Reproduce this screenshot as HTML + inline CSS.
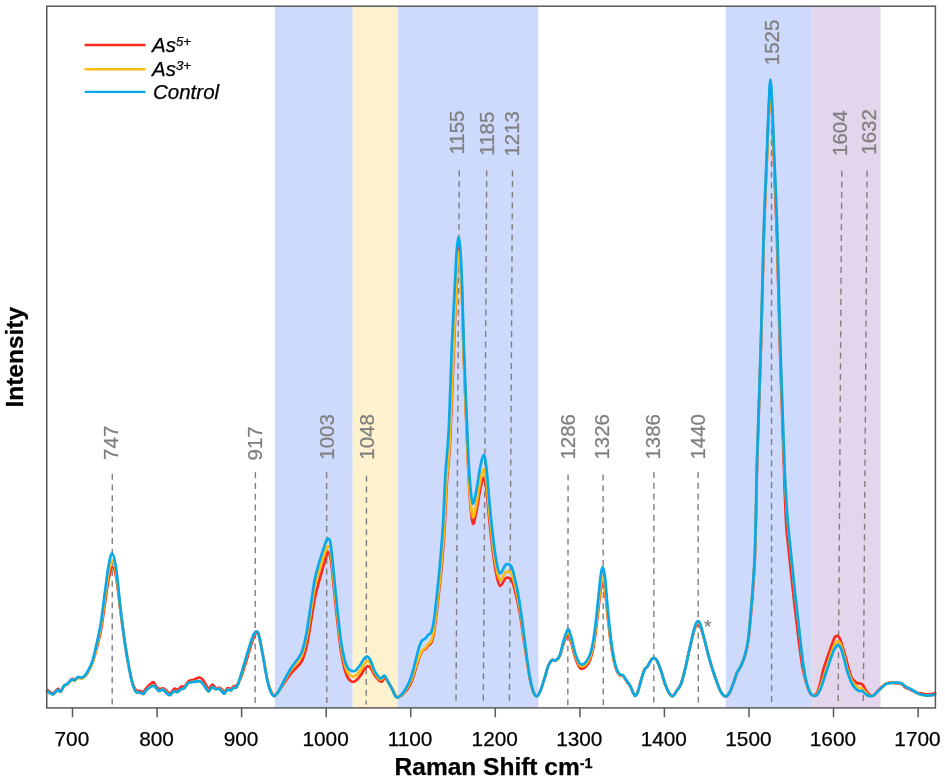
<!DOCTYPE html>
<html lang="en"><head><meta charset="utf-8"><title>Raman spectra</title>
<style>html,body{margin:0;padding:0;background:#fff}body{width:945px;height:782px;overflow:hidden}svg{display:block}</style>
</head><body>
<svg width="945" height="782" viewBox="0 0 945 782">
<rect width="945" height="782" fill="#fff"/>
<rect x="274.9" y="6.2" width="77.8" height="701.7" fill="#cddafc"/>
<rect x="352.7" y="6.2" width="45.1" height="701.7" fill="#fef1cd"/>
<rect x="397.8" y="6.2" width="140.6" height="701.7" fill="#cddafc"/>
<rect x="725.9" y="6.2" width="86.6" height="701.7" fill="#cddafc"/>
<rect x="812.5" y="6.2" width="68.0" height="701.7" fill="#e3d6ec"/>
<g stroke="#7f7f7f" stroke-width="1.4" stroke-dasharray="6 4.7" fill="none">
<line x1="112.3" y1="473.8" x2="112.2" y2="704.5"/>
<line x1="255.4" y1="472.3" x2="255.1" y2="704.5"/>
<line x1="326.6" y1="472.3" x2="326.8" y2="704.5"/>
<line x1="366.5" y1="475.7" x2="366.2" y2="704.5"/>
<line x1="459.3" y1="170.4" x2="456.0" y2="702.5"/>
<line x1="486.7" y1="170.4" x2="483.3" y2="702.5"/>
<line x1="512.5" y1="170.4" x2="509.4" y2="702.5"/>
<line x1="568.1" y1="474.5" x2="567.8" y2="705.5"/>
<line x1="603.1" y1="474.5" x2="603.3" y2="705.5"/>
<line x1="653.9" y1="472.0" x2="653.8" y2="702.5"/>
<line x1="698.1" y1="472.0" x2="698.3" y2="702.5"/>
<line x1="771.5" y1="86.0" x2="771.6" y2="704.8"/>
<line x1="841.8" y1="170.7" x2="838.2" y2="702.5"/>
<line x1="867.1" y1="170.7" x2="863.3" y2="702.5"/>
</g>
<g font-family="'Liberation Sans', Arial, Helvetica, sans-serif" font-size="20.5" fill="#7f7f7f" stroke="#7f7f7f" stroke-width="0.25">
<text transform="translate(117.9 459.9) rotate(-90)">747</text>
<text transform="translate(261.7 460.5) rotate(-90)">917</text>
<text transform="translate(333.8 459.7) rotate(-90)">1003</text>
<text transform="translate(373.5 459.7) rotate(-90)">1048</text>
<text transform="translate(464.3 154.6) rotate(-90)">1155</text>
<text transform="translate(494.0 155.7) rotate(-90)">1185</text>
<text transform="translate(518.6 156.6) rotate(-90)">1213</text>
<text transform="translate(574.5 459.6) rotate(-90)">1286</text>
<text transform="translate(609.4 459.6) rotate(-90)">1326</text>
<text transform="translate(660.2 459.6) rotate(-90)">1386</text>
<text transform="translate(704.7 459.6) rotate(-90)">1440</text>
<text transform="translate(778.9 65.2) rotate(-90)">1525</text>
<text transform="translate(847.4 156.0) rotate(-90)">1604</text>
<text transform="translate(876.0 154.7) rotate(-90)">1632</text>
<text x="704.0" y="633.4" font-size="19">*</text>
</g>
<g fill="none" stroke-width="2.7" stroke-linejoin="round" stroke-linecap="round">
<path stroke="#fb2a20" d="M47.3,690.0C48.3,690.6 51.6,693.5 53.3,693.3C55.0,693.1 56.4,689.4 57.7,689.0C59.0,688.5 59.8,691.1 60.9,690.6C62.0,690.0 63.1,686.9 64.2,685.8C65.3,684.7 66.2,685.1 67.5,684.0C68.8,682.9 70.5,679.8 71.8,679.1C73.1,678.4 74.0,679.9 75.1,679.7C76.2,679.5 77.0,678.0 78.3,677.7C79.6,677.3 81.2,678.5 82.7,677.8C84.2,677.2 85.4,676.2 87.0,673.7C88.6,671.2 90.9,667.2 92.5,662.9C94.1,658.6 95.3,653.6 96.8,647.9C98.2,642.2 99.8,636.9 101.2,628.8C102.7,620.7 104.2,607.8 105.5,599.4C106.8,590.9 107.6,583.4 108.8,578.0C110.0,572.6 111.2,567.0 112.5,567.1C113.8,567.1 115.0,570.8 116.4,578.4C117.8,586.0 119.2,601.8 120.7,612.8C122.2,623.9 123.6,635.2 125.1,644.5C126.5,653.9 128.1,662.5 129.4,669.0C130.7,675.5 131.6,679.9 132.7,683.4C133.8,687.0 134.9,689.0 136.2,690.3C137.5,691.6 139.2,691.0 140.5,691.2C141.8,691.4 142.7,692.2 143.8,691.5C144.9,690.8 145.6,688.7 147.2,687.1C148.8,685.6 151.8,682.4 153.2,682.2C154.6,682.0 154.7,684.7 155.7,685.8C156.7,686.9 157.8,688.6 159.1,689.0C160.4,689.4 162.0,687.9 163.3,688.3C164.6,688.6 165.6,690.1 166.7,691.0C167.8,691.9 168.8,694.0 170.1,693.6C171.4,693.2 173.0,689.3 174.3,688.7C175.6,688.1 176.6,690.4 177.7,690.1C178.8,689.7 180.0,687.2 181.1,686.6C182.2,686.0 183.2,687.3 184.5,686.4C185.8,685.5 187.2,682.2 188.7,681.1C190.3,680.0 192.0,680.3 193.8,679.7C195.6,679.1 198.2,677.4 199.7,677.5C201.3,677.5 202.0,678.8 203.1,680.2C204.2,681.6 205.5,684.2 206.5,685.7C207.5,687.1 208.0,689.0 209.0,688.8C210.0,688.6 211.3,684.7 212.4,684.6C213.5,684.5 214.7,687.8 215.8,688.3C216.9,688.8 218.1,687.2 219.2,687.5C220.3,687.9 221.7,689.6 222.6,690.3C223.5,691.1 223.8,692.3 224.6,691.9C225.5,691.5 226.6,688.6 227.7,688.1C228.8,687.5 230.0,689.1 231.0,688.8C232.0,688.5 232.6,687.1 233.6,686.4C234.6,685.8 235.9,686.6 237.1,685.0C238.4,683.4 239.5,680.9 241.1,676.9C242.6,672.9 244.6,666.4 246.3,661.0C248.0,655.6 249.9,648.7 251.3,644.4C252.7,640.2 253.7,637.4 254.6,635.4C255.5,633.4 256.0,632.7 256.7,632.7C257.4,632.7 257.8,631.5 258.9,635.4C260.0,639.3 261.7,648.7 263.1,656.1C264.5,663.4 266.1,673.8 267.3,679.5C268.6,685.3 269.5,688.0 270.7,690.6C271.9,693.3 273.1,695.4 274.4,695.4C275.8,695.5 277.3,693.0 279.0,690.7C280.8,688.5 282.9,684.8 284.9,682.0C286.8,679.1 288.7,676.2 290.6,673.8C292.5,671.4 294.5,669.8 296.4,667.6C298.3,665.4 300.4,664.3 302.1,660.7C303.8,657.0 305.2,652.7 306.7,645.8C308.3,639.0 310.0,627.4 311.3,619.5C312.7,611.6 313.7,604.2 314.8,598.3C316.0,592.5 316.9,589.4 318.2,584.4C319.6,579.3 321.5,572.8 322.8,568.1C324.2,563.3 325.4,558.7 326.4,556.0C327.3,553.4 327.9,551.6 328.7,552.3C329.4,553.1 330.0,553.6 331.0,560.5C331.9,567.3 333.2,582.3 334.4,593.2C335.5,604.1 336.7,615.8 337.9,625.8C339.0,635.7 340.1,645.5 341.3,652.8C342.4,660.2 343.6,665.7 344.8,669.9C346.0,674.2 346.9,676.5 348.2,678.5C349.5,680.5 351.1,681.5 352.4,681.8C353.8,682.1 354.9,681.4 356.3,680.2C357.7,679.1 359.6,676.7 360.9,674.9C362.3,673.1 363.2,670.9 364.3,669.4C365.5,668.0 366.7,666.3 367.8,666.2C369.0,666.1 370.1,667.3 371.3,668.9C372.4,670.4 373.4,673.5 374.8,675.5C376.1,677.4 378.2,679.6 379.4,680.6C380.5,681.6 380.7,682.0 381.7,681.6C382.6,681.2 383.9,677.9 385.1,678.2C386.3,678.4 387.6,681.4 388.8,683.2C390.0,685.1 391.4,687.3 392.5,689.2C393.6,691.2 394.4,693.5 395.3,694.9C396.2,696.2 397.0,697.0 397.9,697.2C398.9,697.4 399.9,696.8 401.0,696.0C402.1,695.2 403.4,693.7 404.5,692.4C405.7,691.1 406.9,690.0 408.0,688.2C409.2,686.4 410.5,684.2 411.5,681.7C412.6,679.2 413.4,676.2 414.4,673.3C415.3,670.3 416.2,666.9 417.2,663.9C418.1,661.0 419.1,657.8 420.0,655.7C420.8,653.5 421.4,652.0 422.4,650.8C423.3,649.6 424.7,649.6 425.7,648.7C426.7,647.8 427.5,646.3 428.5,645.3C429.4,644.4 430.5,644.4 431.3,642.8C432.1,641.2 432.7,639.3 433.4,635.8C434.1,632.4 434.7,627.9 435.5,622.0C436.3,616.1 437.1,608.8 438.0,600.5C438.9,592.3 440.0,583.8 441.1,572.4C442.1,560.9 443.4,546.3 444.4,531.8C445.3,517.2 445.8,500.5 446.7,485.1C447.7,469.7 449.1,461.0 450.2,439.4C451.3,417.8 452.5,379.3 453.5,355.4C454.5,331.5 455.3,311.0 456.0,296.1C456.6,281.1 456.9,273.0 457.2,265.7C457.6,258.4 457.8,255.4 458.1,252.0C458.4,248.6 458.5,245.2 458.8,245.3C459.0,245.4 459.4,249.1 459.7,252.7C460.0,256.3 460.4,259.3 460.8,266.8C461.2,274.3 461.6,282.7 462.1,297.7C462.6,312.7 463.0,332.5 463.8,356.8C464.6,381.1 466.3,421.6 467.2,443.7C468.1,465.8 468.4,476.3 469.3,489.4C470.2,502.6 471.5,518.6 472.6,522.7C473.7,526.8 474.6,519.5 475.9,514.0C477.2,508.5 478.9,495.6 480.2,489.5C481.5,483.5 482.5,477.9 483.5,477.8C484.5,477.7 485.2,480.8 486.3,488.9C487.4,497.0 488.7,514.3 490.0,526.5C491.3,538.7 493.0,553.2 494.3,562.1C495.6,571.0 496.6,576.0 497.6,579.9C498.6,583.9 499.4,585.7 500.4,585.9C501.4,586.1 502.7,582.4 503.7,581.1C504.7,579.7 505.0,578.1 506.3,577.9C507.6,577.6 509.9,577.6 511.3,579.8C512.8,582.0 513.6,585.7 515.0,591.0C516.4,596.3 517.9,602.6 519.5,611.6C521.1,620.6 522.9,634.3 524.5,644.9C526.1,655.6 527.9,668.0 529.3,675.7C530.7,683.4 531.9,687.8 533.1,691.2C534.4,694.6 535.6,696.0 536.8,696.0C538.0,696.0 539.0,693.8 540.3,691.0C541.5,688.2 542.9,683.6 544.3,679.4C545.6,675.2 547.1,668.8 548.4,665.6C549.7,662.4 550.7,661.0 551.9,660.1C553.1,659.2 554.3,661.1 555.6,660.5C556.9,659.9 558.3,659.4 559.7,656.5C561.1,653.6 562.4,646.7 563.8,643.1C565.2,639.5 566.7,635.2 567.9,635.0C569.1,634.8 569.7,638.0 570.9,641.7C572.1,645.4 573.6,652.9 575.0,657.1C576.4,661.3 577.9,664.8 579.1,666.8C580.3,668.8 581.0,669.0 582.2,668.9C583.4,668.8 584.9,667.8 586.3,666.1C587.7,664.5 589.2,662.1 590.4,659.0C591.6,655.8 592.4,652.7 593.4,647.2C594.4,641.6 595.5,633.7 596.5,625.6C597.5,617.5 598.8,605.0 599.6,598.5C600.4,591.9 600.9,588.8 601.4,586.3C601.9,583.7 602.3,583.2 602.7,583.0C603.1,582.9 603.5,583.5 604.0,585.4C604.5,587.3 604.9,589.0 605.5,594.4C606.1,599.8 606.9,609.8 607.8,617.9C608.7,626.0 609.8,635.7 610.8,642.9C611.8,650.1 612.9,656.5 613.9,661.2C614.9,665.9 616.0,668.8 617.0,671.2C618.0,673.6 619.0,674.6 620.0,675.4C621.0,676.2 622.1,675.2 623.1,676.1C624.1,677.0 625.0,679.1 626.2,680.8C627.4,682.5 629.1,684.2 630.3,686.2C631.5,688.3 632.5,691.7 633.4,693.3C634.2,694.8 634.6,695.8 635.4,695.4C636.2,695.0 637.1,693.6 638.1,690.8C639.1,688.0 640.4,681.9 641.5,678.4C642.6,674.9 643.6,671.7 644.6,669.7C645.6,667.7 646.7,667.7 647.7,666.2C648.7,664.7 649.8,661.9 650.8,660.5C651.8,659.1 652.8,657.9 653.8,657.9C654.8,657.9 655.7,658.4 656.9,660.5C658.1,662.6 659.6,666.8 661.0,670.8C662.4,674.8 663.7,680.8 665.1,684.6C666.5,688.3 668.0,691.6 669.3,693.5C670.6,695.4 671.6,696.3 672.8,695.9C674.0,695.5 675.2,693.0 676.5,691.1C677.8,689.2 679.2,687.9 680.6,684.6C682.0,681.2 683.3,676.2 684.7,670.8C686.1,665.4 687.4,658.3 688.8,652.3C690.2,646.3 691.8,639.3 692.9,635.1C694.0,630.8 694.9,628.4 695.6,626.8C696.3,625.1 696.5,625.5 696.9,625.2C697.3,624.9 697.6,624.9 698.0,624.9C698.4,624.9 698.8,624.7 699.2,625.1C699.6,625.5 699.8,625.1 700.6,627.4C701.4,629.6 702.9,634.2 704.1,638.7C705.4,643.2 706.9,649.4 708.2,654.4C709.6,659.4 711.0,664.3 712.4,668.7C713.7,673.1 715.1,676.9 716.5,680.7C717.9,684.4 719.1,688.8 720.6,691.5C722.2,694.1 724.2,696.4 725.8,696.5C727.3,696.6 728.5,694.6 729.9,692.2C731.3,689.7 732.8,685.0 734.0,681.7C735.2,678.5 735.9,675.5 737.1,672.8C738.3,670.1 739.9,668.7 741.2,665.6C742.6,662.5 744.2,658.7 745.4,654.4C746.6,650.1 747.5,646.2 748.4,640.0C749.3,633.8 749.9,625.3 750.7,617.0C751.4,608.7 752.2,600.3 752.9,590.2C753.6,580.1 754.4,570.0 754.9,556.5C755.5,542.9 755.8,524.7 756.2,508.8C756.6,492.9 756.4,488.0 757.2,461.1C758.0,434.3 759.8,385.4 760.9,347.6C762.1,309.8 762.9,266.0 763.9,234.4C764.9,202.9 766.2,177.7 766.9,158.3C767.7,139.0 767.9,130.1 768.5,118.4C769.1,106.8 769.7,88.1 770.4,88.3C771.0,88.6 771.8,108.1 772.4,120.2C773.0,132.4 773.2,141.5 774.0,161.3C774.8,181.1 776.0,207.2 777.0,239.1C778.1,271.1 778.9,315.0 780.1,352.8C781.2,390.6 783.1,441.9 783.9,466.0C784.7,490.1 784.5,487.0 785.0,497.5C785.4,507.9 785.8,519.5 786.5,528.9C787.2,538.4 788.2,544.6 789.1,554.1C790.1,563.6 791.3,575.9 792.4,585.9C793.5,595.9 794.5,604.8 795.6,614.1C796.7,623.5 797.8,633.3 798.9,642.0C800.0,650.6 801.1,659.1 802.3,665.9C803.5,672.7 804.9,678.4 806.2,682.8C807.4,687.2 808.6,690.3 809.7,692.4C810.8,694.5 811.7,695.5 812.9,695.6C814.1,695.7 815.7,695.4 817.0,693.0C818.3,690.6 819.6,685.1 820.7,681.1C821.8,677.1 822.1,673.8 823.4,669.3C824.7,664.8 826.8,659.2 828.4,654.4C830.0,649.6 832.2,643.3 833.3,640.4C834.4,637.5 834.6,637.5 835.2,636.8C835.8,636.0 836.2,635.9 836.7,635.9C837.2,635.9 837.8,636.1 838.3,636.6C838.8,637.1 839.0,636.2 840.0,638.9C841.0,641.6 842.9,647.9 844.4,653.0C845.9,658.1 847.6,665.1 848.9,669.3C850.1,673.5 850.7,675.9 851.9,678.1C853.1,680.3 855.1,681.7 856.3,682.6C857.5,683.5 858.1,683.2 859.0,683.4C859.9,683.6 860.8,683.4 861.5,683.8C862.2,684.2 862.6,684.7 863.2,685.6C863.8,686.5 864.5,688.1 865.2,689.3C865.9,690.5 866.8,691.7 867.5,692.6C868.2,693.5 868.6,694.2 869.6,694.7C870.6,695.2 872.1,696.1 873.3,695.6C874.5,695.1 875.6,693.0 877.0,691.6C878.4,690.2 880.0,688.5 881.5,687.2C883.0,685.9 884.4,684.6 885.9,683.8C887.4,683.0 888.7,682.7 890.4,682.6C892.1,682.5 894.4,682.8 896.3,683.1C898.1,683.3 900.0,683.3 901.5,684.0C903.0,684.7 903.6,686.3 905.2,687.3C906.8,688.3 909.1,689.0 911.1,690.0C913.1,690.9 915.3,692.2 917.0,692.7C918.7,693.3 919.8,693.1 921.5,693.4C923.2,693.7 925.7,694.4 927.4,694.4C929.1,694.5 930.6,694.0 931.9,693.8C933.2,693.6 934.6,693.3 935.1,693.2"/>
<path stroke="#fdbc10" d="M47.1,690.9C48.1,691.5 51.4,694.7 53.1,694.6C54.8,694.5 56.2,690.8 57.5,690.4C58.8,689.9 59.6,692.6 60.7,691.9C61.8,691.3 62.9,687.5 64.0,686.2C65.1,685.0 66.0,685.2 67.3,684.2C68.6,683.2 70.3,680.8 71.6,680.2C72.9,679.6 73.8,681.1 74.9,680.8C76.0,680.4 76.8,678.4 78.1,678.0C79.4,677.6 81.1,679.1 82.5,678.4C84.0,677.8 85.2,676.5 86.8,673.9C88.5,671.4 90.7,667.7 92.3,663.2C94.0,658.6 95.2,652.8 96.6,646.6C98.1,640.4 99.6,634.6 101.0,626.0C102.5,617.4 104.1,604.0 105.3,595.0C106.6,586.1 107.5,578.1 108.6,572.4C109.8,566.6 111.1,560.4 112.3,560.6C113.6,560.8 114.9,565.3 116.2,573.6C117.6,581.9 119.1,598.6 120.5,610.3C122.0,621.9 123.5,633.7 124.9,643.4C126.4,653.2 128.0,662.0 129.2,668.7C130.5,675.4 131.4,679.7 132.5,683.6C133.7,687.4 134.7,690.2 136.0,691.7C137.3,693.2 139.1,692.3 140.3,692.7C141.6,693.1 142.5,694.6 143.7,694.0C144.8,693.5 145.5,690.8 147.1,689.4C148.6,687.9 151.6,685.9 153.1,685.5C154.5,685.2 154.6,686.3 155.6,687.2C156.5,688.1 157.7,690.7 159.0,691.1C160.2,691.5 161.9,689.2 163.2,689.5C164.4,689.8 165.4,691.9 166.6,692.9C167.7,693.8 168.7,695.4 170.0,695.2C171.2,694.9 172.9,691.9 174.2,691.3C175.4,690.8 176.4,692.2 177.6,691.9C178.7,691.5 179.8,690.0 181.0,689.4C182.1,688.8 183.1,689.3 184.4,688.2C185.6,687.1 187.0,684.0 188.6,683.0C190.1,681.9 191.8,682.1 193.7,681.8C195.5,681.6 198.0,681.0 199.6,681.4C201.1,681.7 201.8,682.6 203.0,683.9C204.1,685.1 205.4,687.3 206.4,688.6C207.4,689.9 207.9,691.8 208.9,691.6C209.9,691.3 211.2,687.5 212.3,687.1C213.4,686.8 214.6,689.2 215.7,689.4C216.8,689.6 218.0,688.0 219.1,688.4C220.2,688.8 221.6,691.0 222.5,691.8C223.4,692.7 223.6,694.0 224.5,693.6C225.3,693.3 226.5,690.0 227.6,689.5C228.7,688.9 229.9,690.7 230.9,690.4C231.9,690.1 232.5,688.2 233.5,687.7C234.5,687.2 235.8,689.0 236.9,687.3C238.0,685.6 238.9,682.1 240.3,677.7C241.7,673.3 243.6,666.4 245.3,660.8C247.0,655.2 249.0,648.3 250.4,643.9C251.8,639.5 252.8,636.6 253.8,634.6C254.8,632.6 255.5,631.7 256.3,631.7C257.2,631.7 257.8,630.6 258.9,634.6C260.0,638.6 261.7,648.2 263.1,655.7C264.5,663.2 266.0,673.7 267.3,679.6C268.6,685.5 269.5,688.3 270.7,691.0C271.9,693.8 273.0,696.1 274.4,696.1C275.8,696.1 277.3,693.5 279.0,690.8C280.8,688.2 282.9,683.7 284.8,680.3C286.7,676.9 288.6,673.3 290.5,670.5C292.4,667.7 294.4,665.9 296.3,663.3C298.2,660.7 300.3,659.3 302.0,655.0C303.7,650.7 305.1,645.3 306.6,637.6C308.2,630.0 309.9,617.7 311.2,609.3C312.6,600.9 313.6,593.2 314.7,587.3C315.9,581.4 316.8,578.6 318.1,573.9C319.5,569.3 321.4,563.5 322.7,559.3C324.1,555.1 325.3,551.1 326.2,548.9C327.2,546.8 327.8,545.6 328.5,546.2C329.3,546.8 329.9,546.2 330.8,552.7C331.8,559.1 333.1,573.9 334.2,584.9C335.4,595.8 336.6,607.9 337.7,618.2C338.9,628.5 340.0,638.9 341.2,646.6C342.3,654.3 343.5,659.9 344.7,664.4C345.8,668.8 346.8,671.2 348.1,673.3C349.3,675.3 350.9,676.1 352.3,676.4C353.6,676.7 354.7,676.3 356.2,675.2C357.6,674.0 359.4,671.5 360.8,669.6C362.1,667.7 363.0,665.2 364.2,663.8C365.3,662.4 366.5,660.8 367.7,661.0C368.8,661.1 369.9,662.7 371.1,664.7C372.2,666.6 373.2,670.4 374.6,672.7C375.9,675.0 378.0,677.5 379.2,678.7C380.3,679.8 380.5,679.7 381.5,679.4C382.4,679.0 383.7,675.9 384.9,676.5C386.1,677.0 387.3,680.7 388.6,682.8C389.8,684.8 391.2,686.7 392.3,688.7C393.4,690.8 394.2,693.6 395.1,695.0C396.0,696.5 396.7,697.5 397.7,697.6C398.6,697.7 399.7,696.6 400.8,695.7C401.9,694.7 403.1,693.3 404.3,691.8C405.5,690.4 406.6,688.9 407.8,686.9C409.0,684.9 410.2,682.3 411.3,679.8C412.3,677.2 413.2,674.6 414.1,671.8C415.0,669.0 416.0,665.5 416.9,662.8C417.8,660.1 418.8,657.5 419.7,655.4C420.6,653.4 421.1,651.8 422.1,650.5C423.0,649.3 424.4,649.0 425.4,647.9C426.4,646.8 427.3,645.2 428.2,644.1C429.1,643.0 430.2,643.0 431.0,641.5C431.8,639.9 432.4,638.1 433.1,634.6C433.8,631.2 434.4,626.6 435.2,620.7C436.0,614.8 436.8,607.4 437.7,599.2C438.6,590.9 439.6,582.4 440.7,571.0C441.7,559.6 443.0,545.2 444.0,530.7C444.9,516.3 445.4,499.6 446.3,484.4C447.3,469.3 448.7,461.0 449.8,439.8C450.9,418.7 452.1,380.8 453.1,357.5C454.1,334.2 455.0,314.6 455.7,300.2C456.3,285.7 456.6,277.9 457.0,271.0C457.4,264.0 457.7,261.3 457.9,258.2C458.2,255.1 458.4,252.1 458.7,252.2C459.0,252.2 459.4,255.3 459.7,258.5C460.0,261.7 460.4,264.4 460.8,271.5C461.2,278.6 461.6,286.5 462.1,300.9C462.6,315.4 463.0,334.8 463.8,358.4C464.6,381.9 466.3,420.9 467.2,442.2C468.1,463.4 468.4,473.5 469.3,485.8C470.2,498.2 471.5,512.9 472.6,516.5C473.7,520.0 474.6,512.8 475.9,506.9C477.2,501.1 478.9,487.7 480.2,481.4C481.5,475.1 482.5,469.3 483.5,469.1C484.5,468.9 485.2,471.9 486.3,480.2C487.4,488.5 488.7,506.3 490.0,518.9C491.3,531.5 493.0,546.4 494.3,555.6C495.6,564.8 496.6,569.9 497.6,574.0C498.6,578.1 499.4,579.9 500.4,580.1C501.4,580.3 502.7,576.5 503.7,575.1C504.7,573.7 505.0,572.0 506.3,571.7C507.6,571.5 509.9,571.4 511.3,573.6C512.8,575.9 513.6,579.8 515.0,585.3C516.4,590.9 517.9,597.5 519.5,607.0C521.1,616.4 522.9,630.7 524.5,642.0C526.1,653.4 527.9,666.8 529.3,675.0C530.7,683.2 531.9,687.6 533.1,691.2C534.4,694.7 535.6,696.3 536.8,696.3C538.0,696.2 539.0,693.7 540.3,690.9C541.5,688.0 542.9,683.3 544.3,679.1C545.6,674.9 547.1,668.8 548.4,665.6C549.7,662.4 550.7,661.0 551.9,660.1C553.1,659.2 554.3,661.2 555.6,660.5C556.9,659.8 558.3,659.1 559.7,655.9C561.1,652.8 562.4,645.5 563.8,641.5C565.2,637.5 566.7,632.6 567.9,632.1C569.1,631.6 569.7,635.0 570.9,638.7C572.1,642.5 573.6,650.3 575.0,654.6C576.4,658.9 577.9,662.5 579.1,664.5C580.3,666.6 581.0,666.7 582.2,666.6C583.4,666.5 584.9,665.5 586.3,663.8C587.7,662.1 589.2,659.7 590.4,656.4C591.6,653.1 592.4,649.9 593.4,644.1C594.4,638.3 595.5,630.0 596.5,621.6C597.5,613.1 598.8,600.2 599.6,593.5C600.4,586.7 600.9,583.6 601.4,581.0C601.9,578.3 602.3,577.9 602.7,577.8C603.1,577.7 603.5,578.5 604.0,580.6C604.5,582.6 604.9,584.5 605.5,590.2C606.1,595.9 606.9,606.5 607.8,615.0C608.7,623.5 609.8,633.6 610.8,641.2C611.8,648.7 612.9,655.3 613.9,660.2C614.9,665.1 616.0,668.2 617.0,670.6C618.0,673.1 619.0,674.2 620.0,675.0C621.0,675.9 622.1,674.9 623.1,675.8C624.1,676.6 625.0,678.4 626.2,680.1C627.4,681.8 629.1,683.8 630.3,686.0C631.5,688.2 632.5,691.5 633.4,693.2C634.2,694.8 634.6,696.1 635.4,695.7C636.2,695.3 637.1,693.7 638.1,690.9C639.1,688.1 640.4,682.2 641.5,678.6C642.6,675.1 643.6,671.8 644.6,669.7C645.6,667.6 646.7,667.7 647.7,666.2C648.7,664.7 649.8,661.9 650.8,660.5C651.8,659.1 652.8,657.9 653.8,657.9C654.8,657.9 655.7,658.4 656.9,660.5C658.1,662.6 659.6,666.9 661.0,670.8C662.4,674.7 663.7,680.4 665.1,684.1C666.5,687.8 668.0,691.0 669.3,693.1C670.6,695.2 671.6,696.7 672.8,696.4C674.0,696.1 675.2,693.3 676.5,691.4C677.8,689.5 679.2,688.6 680.6,685.1C682.0,681.7 683.3,676.3 684.7,670.8C686.1,665.3 687.4,658.4 688.8,652.3C690.2,646.2 691.8,638.9 692.9,634.4C694.0,629.8 694.9,627.1 695.6,625.2C696.3,623.4 696.5,623.6 696.9,623.2C697.3,622.8 697.6,622.6 698.0,622.6C698.4,622.6 698.8,622.6 699.2,623.2C699.6,623.7 699.8,623.4 700.6,625.9C701.4,628.4 702.8,633.5 704.1,638.3C705.4,643.0 706.8,649.3 708.2,654.4C709.6,659.5 710.9,664.2 712.3,668.7C713.7,673.2 715.0,677.4 716.4,681.1C717.8,684.9 719.0,688.6 720.5,691.1C722.0,693.6 724.1,695.9 725.6,696.0C727.1,696.2 728.3,694.5 729.7,692.2C731.1,689.8 732.6,685.2 733.8,681.9C735.0,678.7 735.7,675.5 736.9,672.8C738.1,670.1 739.6,668.7 741.0,665.6C742.4,662.5 743.9,658.7 745.1,654.4C746.3,650.1 747.2,646.2 748.1,640.0C749.0,633.8 749.6,625.3 750.4,617.0C751.1,608.7 751.9,600.3 752.6,590.2C753.3,580.1 754.1,570.0 754.7,556.5C755.3,542.9 755.6,524.7 756.0,508.8C756.4,492.9 756.2,488.0 757.0,461.1C757.8,434.3 759.7,385.4 760.8,347.6C761.9,309.8 762.8,266.0 763.8,234.4C764.8,202.9 766.1,177.7 766.9,158.3C767.7,139.0 767.9,130.1 768.5,118.4C769.1,106.8 769.7,88.3 770.4,88.3C771.1,88.4 771.9,107.1 772.5,119.0C773.1,130.8 773.3,139.7 774.1,159.2C774.9,178.7 776.2,204.2 777.2,235.9C778.2,267.6 779.1,311.4 780.3,349.2C781.5,387.0 783.4,438.5 784.3,462.7C785.2,486.8 785.2,483.7 785.8,494.2C786.4,504.8 787.2,516.4 788.0,525.8C788.8,535.3 789.6,541.5 790.6,550.9C791.6,560.4 792.7,572.5 793.8,582.5C794.9,592.5 795.9,601.4 797.0,610.9C798.1,620.4 799.2,630.4 800.2,639.4C801.2,648.4 802.2,657.7 803.3,664.8C804.3,672.0 805.4,677.9 806.5,682.4C807.6,686.9 808.6,689.4 809.7,691.6C810.8,693.8 811.7,695.1 812.9,695.6C814.1,696.1 815.7,696.1 817.0,694.5C818.3,692.9 819.3,689.7 820.7,686.0C822.1,682.3 823.7,677.1 825.2,672.5C826.7,667.9 828.2,662.7 829.6,658.5C831.0,654.3 832.2,650.2 833.3,647.5C834.4,644.8 835.5,643.4 836.3,642.3C837.0,641.2 837.1,640.8 837.8,641.1C838.5,641.4 839.5,641.8 840.5,644.0C841.5,646.2 842.7,650.8 843.7,654.5C844.7,658.2 845.7,663.0 846.7,666.5C847.7,670.0 848.6,672.9 849.6,675.5C850.6,678.1 851.5,680.2 852.6,682.0C853.7,683.8 855.2,685.3 856.3,686.3C857.4,687.3 858.3,687.4 859.3,687.8C860.3,688.2 861.2,687.8 862.2,688.5C863.2,689.2 864.1,690.8 865.2,692.0C866.3,693.2 867.5,694.9 868.9,695.5C870.2,696.1 871.9,696.2 873.3,695.6C874.6,695.0 875.6,693.3 877.0,692.0C878.4,690.8 880.0,689.3 881.5,688.0C883.0,686.6 884.4,684.8 885.9,684.0C887.4,683.1 888.7,683.1 890.4,682.9C892.1,682.8 894.4,682.8 896.3,682.9C898.1,682.9 900.0,682.6 901.5,683.2C903.0,683.7 903.6,685.0 905.2,686.1C906.8,687.1 909.1,688.3 911.1,689.4C913.1,690.6 915.3,692.1 917.0,693.0C918.7,693.9 919.8,694.4 921.5,694.8C923.2,695.1 925.7,695.3 927.4,695.3C929.1,695.4 930.6,695.4 931.9,695.2C933.2,694.9 934.6,694.3 935.1,694.1"/>
<path stroke="#08a9ea" d="M47.0,691.0C48.0,691.5 51.3,694.5 53.0,694.3C54.7,694.1 56.1,690.5 57.4,690.0C58.7,689.5 59.5,692.2 60.6,691.5C61.7,690.8 62.8,687.2 63.9,686.0C65.0,684.8 65.9,685.0 67.2,684.0C68.5,683.0 70.2,680.5 71.5,679.8C72.8,679.1 73.7,680.5 74.8,680.0C75.9,679.5 76.7,677.4 78.0,677.0C79.3,676.6 81.0,678.3 82.4,677.6C83.9,676.9 85.1,675.6 86.7,673.0C88.3,670.4 90.6,666.5 92.2,661.7C93.8,656.9 95.0,650.8 96.5,644.3C98.0,637.8 99.5,631.6 100.9,622.6C102.4,613.6 103.9,599.4 105.2,590.0C106.5,580.6 107.3,572.1 108.5,566.0C109.7,559.9 110.9,553.1 112.2,553.5C113.5,553.9 114.7,559.3 116.1,568.3C117.5,577.3 119.0,595.1 120.4,607.4C121.9,619.7 123.3,632.1 124.8,642.2C126.2,652.4 127.8,661.4 129.1,668.3C130.4,675.2 131.3,679.6 132.4,683.5C133.5,687.4 134.6,690.3 135.9,691.8C137.2,693.3 138.9,692.2 140.2,692.5C141.5,692.8 142.4,694.3 143.5,693.8C144.6,693.3 145.3,691.0 146.9,689.6C148.5,688.2 151.5,686.1 152.9,685.7C154.3,685.3 154.4,686.1 155.4,687.0C156.4,687.9 157.5,690.5 158.8,690.9C160.1,691.3 161.7,689.2 163.0,689.6C164.3,690.0 165.3,692.1 166.4,693.0C167.5,693.9 168.5,695.5 169.8,695.2C171.1,694.9 172.7,691.8 174.0,691.3C175.3,690.8 176.3,692.5 177.4,692.1C178.5,691.8 179.7,689.9 180.8,689.2C181.9,688.6 182.9,689.3 184.2,688.2C185.5,687.1 186.8,683.8 188.4,682.8C190.0,681.8 191.7,682.3 193.5,682.0C195.3,681.7 197.8,680.8 199.4,681.1C201.0,681.4 201.7,682.4 202.8,683.7C203.9,685.0 205.2,687.4 206.2,688.7C207.2,690.0 207.7,691.6 208.7,691.3C209.7,691.0 211.0,687.4 212.1,687.0C213.2,686.6 214.4,688.9 215.5,689.2C216.6,689.5 217.8,688.2 218.9,688.7C220.0,689.2 221.4,691.3 222.3,692.1C223.2,692.9 223.5,693.9 224.3,693.5C225.2,693.1 226.3,690.1 227.4,689.6C228.5,689.1 229.7,690.7 230.7,690.4C231.7,690.1 232.3,688.5 233.3,687.9C234.3,687.3 235.6,688.7 236.7,687.0C237.8,685.3 238.7,682.1 240.1,677.7C241.5,673.3 243.4,666.4 245.1,660.8C246.8,655.2 248.8,648.3 250.2,643.9C251.6,639.5 252.6,636.6 253.6,634.6C254.6,632.6 255.3,631.7 256.1,631.7C257.0,631.7 257.6,630.6 258.7,634.6C259.8,638.6 261.5,648.2 262.9,655.7C264.3,663.2 265.8,673.5 267.1,679.4C268.4,685.3 269.3,688.5 270.5,691.3C271.7,694.1 272.8,696.1 274.2,696.1C275.6,696.1 277.1,693.8 278.8,691.0C280.5,688.2 282.7,683.1 284.6,679.5C286.5,675.9 288.4,672.3 290.3,669.2C292.2,666.1 294.2,664.0 296.1,661.1C298.0,658.2 300.1,656.5 301.8,651.9C303.5,647.3 304.9,641.5 306.4,633.5C307.9,625.5 309.6,612.4 311.0,603.6C312.4,594.8 313.4,586.7 314.5,580.6C315.6,574.5 316.6,571.6 317.9,566.8C319.2,562.0 321.1,556.1 322.5,551.9C323.9,547.7 325.0,543.7 326.0,541.5C327.0,539.3 327.5,538.3 328.3,538.7C329.1,539.1 329.7,537.6 330.6,543.8C331.6,550.0 332.9,564.9 334.0,576.0C335.1,587.1 336.4,599.8 337.5,610.5C338.6,621.2 339.8,632.4 340.9,640.4C342.0,648.4 343.2,654.2 344.4,658.8C345.5,663.4 346.5,666.0 347.8,668.0C349.1,670.0 350.6,670.6 352.0,671.0C353.4,671.4 354.5,671.4 355.9,670.3C357.3,669.2 359.2,666.5 360.5,664.6C361.8,662.7 362.8,660.1 363.9,658.8C365.0,657.4 366.2,656.1 367.4,656.5C368.5,656.9 369.6,658.8 370.8,661.1C372.0,663.4 373.0,667.6 374.3,670.3C375.6,673.0 377.8,675.9 378.9,677.2C380.0,678.6 380.2,678.7 381.2,678.4C382.1,678.1 383.4,675.0 384.6,675.6C385.8,676.2 387.1,680.0 388.3,682.2C389.5,684.4 390.9,686.6 392.0,688.8C393.1,691.0 393.9,693.7 394.8,695.2C395.7,696.7 396.4,697.5 397.4,697.6C398.3,697.7 399.4,696.6 400.5,695.6C401.6,694.6 402.8,693.0 404.0,691.4C405.2,689.8 406.3,688.1 407.5,685.7C408.7,683.4 409.9,680.3 411.0,677.3C412.1,674.3 412.9,671.0 413.8,667.5C414.7,664.0 415.7,659.7 416.6,656.2C417.5,652.7 418.5,649.0 419.4,646.4C420.3,643.8 420.9,642.1 421.8,640.8C422.8,639.5 424.1,639.7 425.1,638.7C426.1,637.8 427.0,636.1 427.9,635.1C428.8,634.1 429.9,634.4 430.7,633.0C431.5,631.6 432.1,630.0 432.8,626.7C433.5,623.4 434.2,618.8 434.9,613.0C435.6,607.2 436.4,599.9 437.2,592.0C438.0,584.1 438.8,576.8 439.8,565.5C440.8,554.2 442.1,538.9 443.0,524.0C443.9,509.1 444.4,491.7 445.3,476.0C446.2,460.3 447.6,451.8 448.7,430.0C449.8,408.2 450.9,369.0 451.9,345.0C452.9,321.0 454.1,300.8 454.8,286.0C455.5,271.2 455.9,263.2 456.3,256.0C456.8,248.8 457.1,246.2 457.5,243.0C457.9,239.8 458.2,237.0 458.6,237.0C459.0,237.0 459.3,239.8 459.7,243.0C460.1,246.2 460.4,248.8 460.8,256.0C461.2,263.2 461.6,271.2 462.1,286.0C462.6,300.8 463.0,321.0 463.8,345.0C464.6,369.0 466.3,408.6 467.2,430.0C468.1,451.4 468.4,461.4 469.3,473.5C470.2,485.6 471.5,499.6 472.6,502.8C473.7,506.1 474.6,499.0 475.9,493.0C477.2,487.0 478.9,473.3 480.2,467.0C481.5,460.7 482.5,455.0 483.5,455.0C484.5,455.0 485.2,458.1 486.3,467.0C487.4,475.9 488.7,494.9 490.0,508.3C491.3,521.7 493.0,537.6 494.3,547.4C495.6,557.2 496.6,562.6 497.6,567.0C498.6,571.4 499.4,573.3 500.4,573.5C501.4,573.7 502.7,569.5 503.7,568.0C504.7,566.5 505.0,564.5 506.3,564.3C507.6,564.0 509.9,564.0 511.3,566.5C512.8,569.0 513.6,573.1 515.0,579.0C516.4,584.9 517.9,592.0 519.5,602.0C521.1,612.0 522.9,627.1 524.5,639.1C526.1,651.1 527.9,665.6 529.3,674.3C530.7,682.9 531.9,687.3 533.1,691.0C534.4,694.7 535.6,696.5 536.8,696.5C538.0,696.5 539.0,693.9 540.3,691.0C541.5,688.1 542.9,683.1 544.3,678.9C545.6,674.7 547.1,668.7 548.4,665.6C549.7,662.5 550.7,661.0 551.9,660.1C553.1,659.2 554.3,661.3 555.6,660.5C556.9,659.7 558.3,658.8 559.7,655.4C561.1,652.0 562.4,644.3 563.8,640.0C565.2,635.7 566.7,630.1 567.9,629.4C569.1,628.7 569.7,632.2 570.9,636.0C572.1,639.8 573.6,647.9 575.0,652.3C576.4,656.7 577.9,660.5 579.1,662.6C580.3,664.7 581.0,664.8 582.2,664.6C583.4,664.4 584.9,663.4 586.3,661.5C587.7,659.6 589.2,657.0 590.4,653.4C591.6,649.8 592.4,646.3 593.4,640.0C594.4,633.7 595.5,624.7 596.5,615.5C597.5,606.3 598.8,592.2 599.6,584.8C600.4,577.4 600.9,573.9 601.4,571.0C601.9,568.1 602.3,567.4 602.7,567.4C603.1,567.4 603.5,568.6 604.0,571.0C604.5,573.4 604.9,575.6 605.5,582.0C606.1,588.4 606.9,600.1 607.8,609.4C608.7,618.7 609.8,629.8 610.8,638.0C611.8,646.2 612.9,653.2 613.9,658.5C614.9,663.8 616.0,667.1 617.0,669.7C618.0,672.4 619.0,673.5 620.0,674.4C621.0,675.3 622.1,674.4 623.1,675.3C624.1,676.2 625.0,678.2 626.2,680.0C627.4,681.8 629.1,683.9 630.3,686.1C631.5,688.3 632.5,691.7 633.4,693.3C634.2,694.9 634.6,696.1 635.4,695.7C636.2,695.4 637.1,694.0 638.1,691.2C639.1,688.4 640.4,682.5 641.5,678.9C642.6,675.3 643.6,671.8 644.6,669.7C645.6,667.6 646.7,667.7 647.7,666.2C648.7,664.7 649.8,661.9 650.8,660.5C651.8,659.1 652.8,657.9 653.8,657.9C654.8,657.9 655.7,658.4 656.9,660.5C658.1,662.6 659.6,666.9 661.0,670.8C662.4,674.7 663.7,680.4 665.1,684.1C666.5,687.9 668.0,691.3 669.3,693.3C670.6,695.3 671.6,696.6 672.8,696.3C674.0,695.9 675.2,693.1 676.5,691.2C677.8,689.3 679.2,688.5 680.6,685.1C682.0,681.7 683.3,676.3 684.7,670.8C686.1,665.3 687.4,658.4 688.8,652.3C690.2,646.1 691.8,638.6 692.9,633.9C694.0,629.2 694.9,626.2 695.6,624.2C696.3,622.2 696.5,622.4 696.9,621.9C697.3,621.4 697.6,621.1 698.0,621.1C698.4,621.1 698.8,621.3 699.2,621.9C699.6,622.5 699.8,622.2 700.6,624.9C701.4,627.6 702.8,633.1 704.1,638.0C705.4,642.9 706.8,649.3 708.2,654.4C709.6,659.5 710.9,664.3 712.3,668.7C713.7,673.1 715.0,677.2 716.4,681.0C717.8,684.8 719.0,688.7 720.5,691.2C722.0,693.8 724.1,696.1 725.6,696.3C727.1,696.5 728.3,694.6 729.7,692.2C731.1,689.8 732.6,685.2 733.8,682.0C735.0,678.8 735.7,675.5 736.9,672.8C738.1,670.1 739.6,668.7 741.0,665.6C742.4,662.5 743.9,658.7 745.1,654.4C746.3,650.1 747.2,646.2 748.1,640.0C749.0,633.8 749.6,625.3 750.4,617.0C751.1,608.7 751.9,600.2 752.6,590.0C753.3,579.8 754.1,569.7 754.7,556.0C755.3,542.3 755.6,524.0 756.0,508.0C756.4,492.0 756.2,487.2 757.0,460.0C757.8,432.8 759.7,383.3 760.8,345.0C761.9,306.7 762.8,262.2 763.8,230.0C764.8,197.8 766.1,171.8 766.9,152.0C767.7,132.2 767.9,123.0 768.5,111.0C769.1,99.0 769.7,79.7 770.4,79.7C771.1,79.7 771.9,99.0 772.5,111.0C773.1,123.0 773.3,132.2 774.1,152.0C774.9,171.8 776.2,197.8 777.2,230.0C778.2,262.2 779.1,306.7 780.3,345.0C781.5,383.3 783.4,435.5 784.3,460.0C785.2,484.5 785.2,481.3 785.8,492.0C786.4,502.7 787.2,514.4 788.0,524.0C788.8,533.6 789.6,539.9 790.6,549.5C791.6,559.1 792.7,571.4 793.8,581.5C794.9,591.6 795.9,600.7 797.0,610.3C798.1,619.9 799.2,630.0 800.2,639.1C801.2,648.2 802.2,657.5 803.3,664.7C804.3,671.9 805.4,677.8 806.5,682.3C807.6,686.8 808.6,689.6 809.7,691.8C810.8,694.0 811.7,695.1 812.9,695.6C814.1,696.1 815.7,696.2 817.0,695.0C818.3,693.8 819.3,691.8 820.7,688.5C822.1,685.2 823.7,679.6 825.2,675.2C826.7,670.8 828.2,665.9 829.6,661.9C831.0,657.9 832.2,654.1 833.3,651.5C834.4,648.9 835.5,647.4 836.3,646.3C837.1,645.2 837.5,644.5 838.2,644.8C838.9,645.0 839.8,645.7 840.7,647.8C841.6,649.9 842.7,653.8 843.7,657.4C844.7,661.0 845.7,665.8 846.7,669.3C847.7,672.8 848.6,675.5 849.6,678.1C850.6,680.7 851.5,682.9 852.6,684.8C853.7,686.7 855.2,688.2 856.3,689.3C857.4,690.4 858.3,691.0 859.3,691.2C860.3,691.4 861.2,690.3 862.2,690.7C863.2,691.1 864.1,692.8 865.2,693.7C866.3,694.6 867.5,695.6 868.9,695.9C870.2,696.2 871.9,696.2 873.3,695.6C874.6,695.0 875.6,693.5 877.0,692.2C878.4,690.9 880.0,689.1 881.5,687.8C883.0,686.4 884.4,684.9 885.9,684.1C887.4,683.3 888.7,683.2 890.4,683.0C892.1,682.8 894.4,682.6 896.3,682.6C898.1,682.6 900.0,682.7 901.5,683.3C903.0,683.9 903.6,685.3 905.2,686.3C906.8,687.3 909.1,688.2 911.1,689.3C913.1,690.4 915.3,692.1 917.0,693.0C918.7,693.9 919.8,694.3 921.5,694.7C923.2,695.1 925.7,695.5 927.4,695.6C929.1,695.7 930.6,695.4 931.9,695.2C933.2,695.0 934.6,694.5 935.1,694.4"/>
</g>
<rect x="46.75" y="6.20" width="888.65" height="701.70" fill="none" stroke="#595959" stroke-width="1.5"/>
<g stroke="#595959" stroke-width="1.5">
<line x1="72.5" y1="707.9" x2="72.5" y2="717.2"/>
<line x1="157.1" y1="707.9" x2="157.1" y2="717.2"/>
<line x1="241.6" y1="707.9" x2="241.6" y2="717.2"/>
<line x1="326.2" y1="707.9" x2="326.2" y2="717.2"/>
<line x1="410.7" y1="707.9" x2="410.7" y2="717.2"/>
<line x1="495.3" y1="707.9" x2="495.3" y2="717.2"/>
<line x1="579.9" y1="707.9" x2="579.9" y2="717.2"/>
<line x1="664.4" y1="707.9" x2="664.4" y2="717.2"/>
<line x1="749.0" y1="707.9" x2="749.0" y2="717.2"/>
<line x1="833.5" y1="707.9" x2="833.5" y2="717.2"/>
<line x1="918.1" y1="707.9" x2="918.1" y2="717.2"/>
</g>
<g font-family="'Liberation Sans', Arial, Helvetica, sans-serif" font-size="20.8" fill="#000" stroke="#000" stroke-width="0.25" text-anchor="middle">
<text x="71.9" y="746.2">700</text>
<text x="156.5" y="746.2">800</text>
<text x="241.0" y="746.2">900</text>
<text x="325.6" y="746.2">1000</text>
<text x="410.1" y="746.2">1100</text>
<text x="494.7" y="746.2">1200</text>
<text x="579.3" y="746.2">1300</text>
<text x="663.8" y="746.2">1400</text>
<text x="748.4" y="746.2">1500</text>
<text x="832.9" y="746.2">1600</text>
<text x="917.5" y="746.2">1700</text>
</g>
<g font-family="'Liberation Sans', Arial, Helvetica, sans-serif" font-weight="bold" font-size="24.5" fill="#000" stroke="#000" stroke-width="0.25">
<text x="394.6" y="775">Raman Shift cm<tspan font-size="14.5" dy="-7.5">-1</tspan></text>
<text transform="translate(23.3 407.6) rotate(-90)">Intensity</text>
</g>
<g stroke-width="2.4" fill="none">
<line x1="84.6" y1="45" x2="145.6" y2="45" stroke="#fb2a20"/>
<line x1="84.6" y1="69.2" x2="145.6" y2="69.2" stroke="#fdbc10"/>
<line x1="84.6" y1="91.9" x2="145.6" y2="91.9" stroke="#08a9ea"/>
</g>
<g font-family="'Liberation Sans', Arial, Helvetica, sans-serif" font-style="italic" font-size="20.5" fill="#000" stroke="#000" stroke-width="0.25">
<text x="152" y="51.8">As<tspan font-size="13.3" dy="-6">5+</tspan></text>
<text x="152" y="75.5">As<tspan font-size="13.3" dy="-6">3+</tspan></text>
<text x="153" y="98.7">Control</text>
</g>
</svg>
</body></html>
